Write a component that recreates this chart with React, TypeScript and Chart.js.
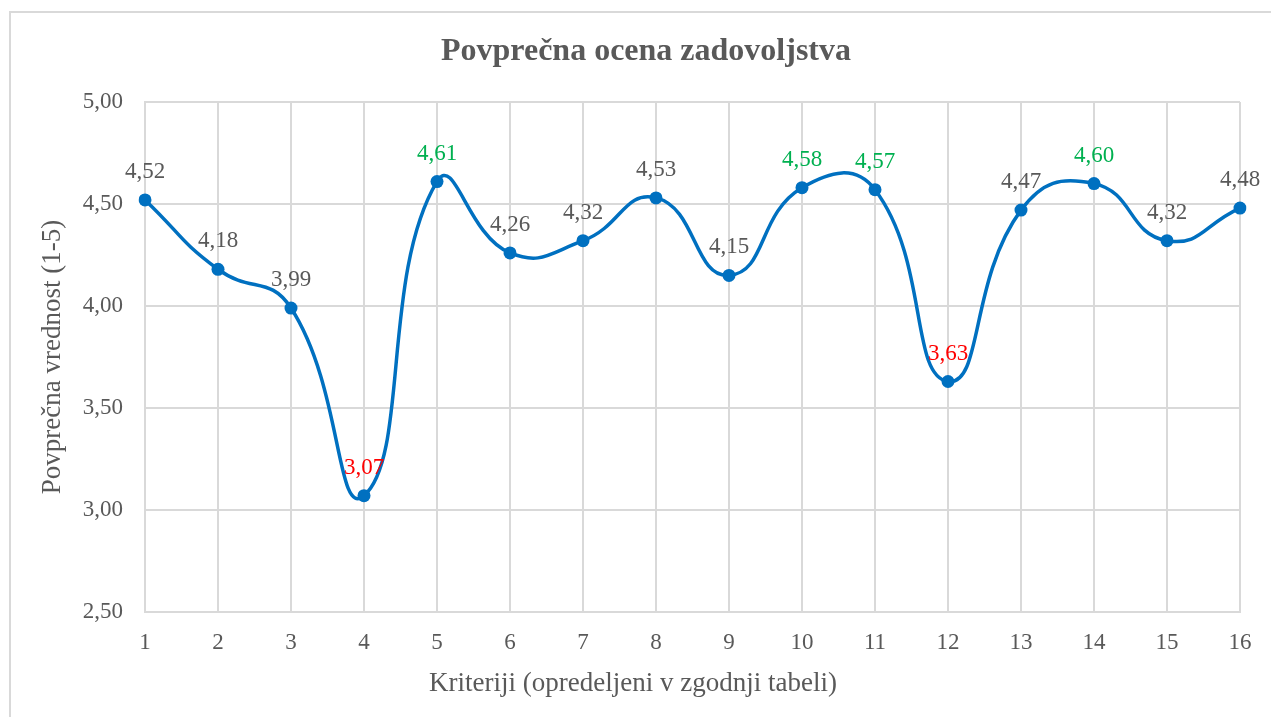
import React, { useEffect, useRef } from "react";
import { Chart, registerables } from "chart.js";

Chart.register(...registerables);

const categories = ["1","2","3","4","5","6","7","8","9","10","11","12","13","14","15","16"];
const values = [4.52, 4.18, 3.99, 3.07, 4.61, 4.26, 4.32, 4.53, 4.15, 4.58, 4.57, 3.63, 4.47, 4.6, 4.32, 4.48];
const labelColors = ["#595959","#595959","#595959","#FF0000","#00B050","#595959","#595959","#595959","#595959","#00B050","#00B050","#FF0000","#595959","#00B050","#595959","#595959"];
const titleText = "Povprečna ocena zadovoljstva";
const xTitle = "Kriteriji (opredeljeni v zgodnji tabeli)";
const yTitle = "Povprečna vrednost (1-5)";

const SERIF = "'Liberation Serif', 'Times New Roman', serif";
const GRAY = "#595959";

const fmt = (v: number) => v.toFixed(2).replace(".", ",");

const textPlugin = {
  id: "textPlugin",
  afterDraw(chart: any) {
    const ctx = chart.ctx;
    const area = chart.chartArea;
    ctx.save();
    ctx.fillStyle = GRAY;
    ctx.textAlign = "center";
    ctx.textBaseline = "middle";
    ctx.font = `bold 32px ${SERIF}`;
    ctx.fillText(titleText, 646, 52);
    ctx.font = `27px ${SERIF}`;
    ctx.fillText(xTitle, 633, 684);
    ctx.save();
    ctx.translate(53, (area.top + area.bottom) / 2);
    ctx.rotate(-Math.PI / 2);
    ctx.fillText(yTitle, 0, 0);
    ctx.restore();
    const meta = chart.getDatasetMeta(0);
    ctx.font = `23px ${SERIF}`;
    meta.data.forEach((pt: any, i: number) => {
      ctx.fillStyle = labelColors[i];
      ctx.fillText(fmt(values[i]), pt.x, pt.y - 28);
    });
    ctx.restore();
  },
};

export default function App() {
  const ref = useRef<HTMLCanvasElement>(null);
  useEffect(() => {
    document.body.style.margin = "0";
    const chart = new Chart(ref.current as HTMLCanvasElement, {
      type: "line",
      data: {
        labels: categories,
        datasets: [
          {
            data: values,
            borderColor: "#0070C0",
            backgroundColor: "#0070C0",
            borderWidth: 3.5,
            pointRadius: 6.5,
            pointBorderWidth: 0,
            pointBackgroundColor: "#0070C0",
            tension: 0.5,
            fill: false,
          },
        ],
      },
      options: {
        animation: false,
        responsive: false,
        maintainAspectRatio: false,
        layout: { padding: { top: 102, right: 31, left: 0, bottom: 0 } },
        plugins: { legend: { display: false }, tooltip: { enabled: false }, title: { display: false } },
        scales: {
          x: {
            type: "category",
            offset: false,
            grid: { color: "#d9d9d9", lineWidth: 2, drawTicks: false },
            border: { display: true, color: "#d9d9d9", width: 2 },
            ticks: { color: GRAY, font: { family: SERIF, size: 23 }, padding: 17, maxRotation: 0, autoSkip: false },
            afterFit: (s: any) => { s.height = 105; },
          },
          y: {
            min: 2.5,
            max: 5,
            grid: { color: "#d9d9d9", lineWidth: 2, drawTicks: false },
            border: { display: true, color: "#d9d9d9", width: 2 },
            ticks: { stepSize: 0.5, color: GRAY, font: { family: SERIF, size: 23 }, padding: 22, callback: (v: any) => fmt(Number(v)) },
            afterFit: (s: any) => { s.width = 145; },
          },
        },
      },
      plugins: [textPlugin],
    });
    return () => chart.destroy();
  }, []);
  return (
    <div style={{ position: "relative", width: 1271, height: 717, overflow: "hidden", background: "#fff" }}>
      <div style={{ position: "absolute", left: 9, top: 11, width: 1300, height: 720, border: "2px solid #d9d9d9", boxSizing: "border-box" }} />
      <canvas ref={ref} width={1271} height={717} style={{ position: "absolute", left: 0, top: 0 }} />
    </div>
  );
}
